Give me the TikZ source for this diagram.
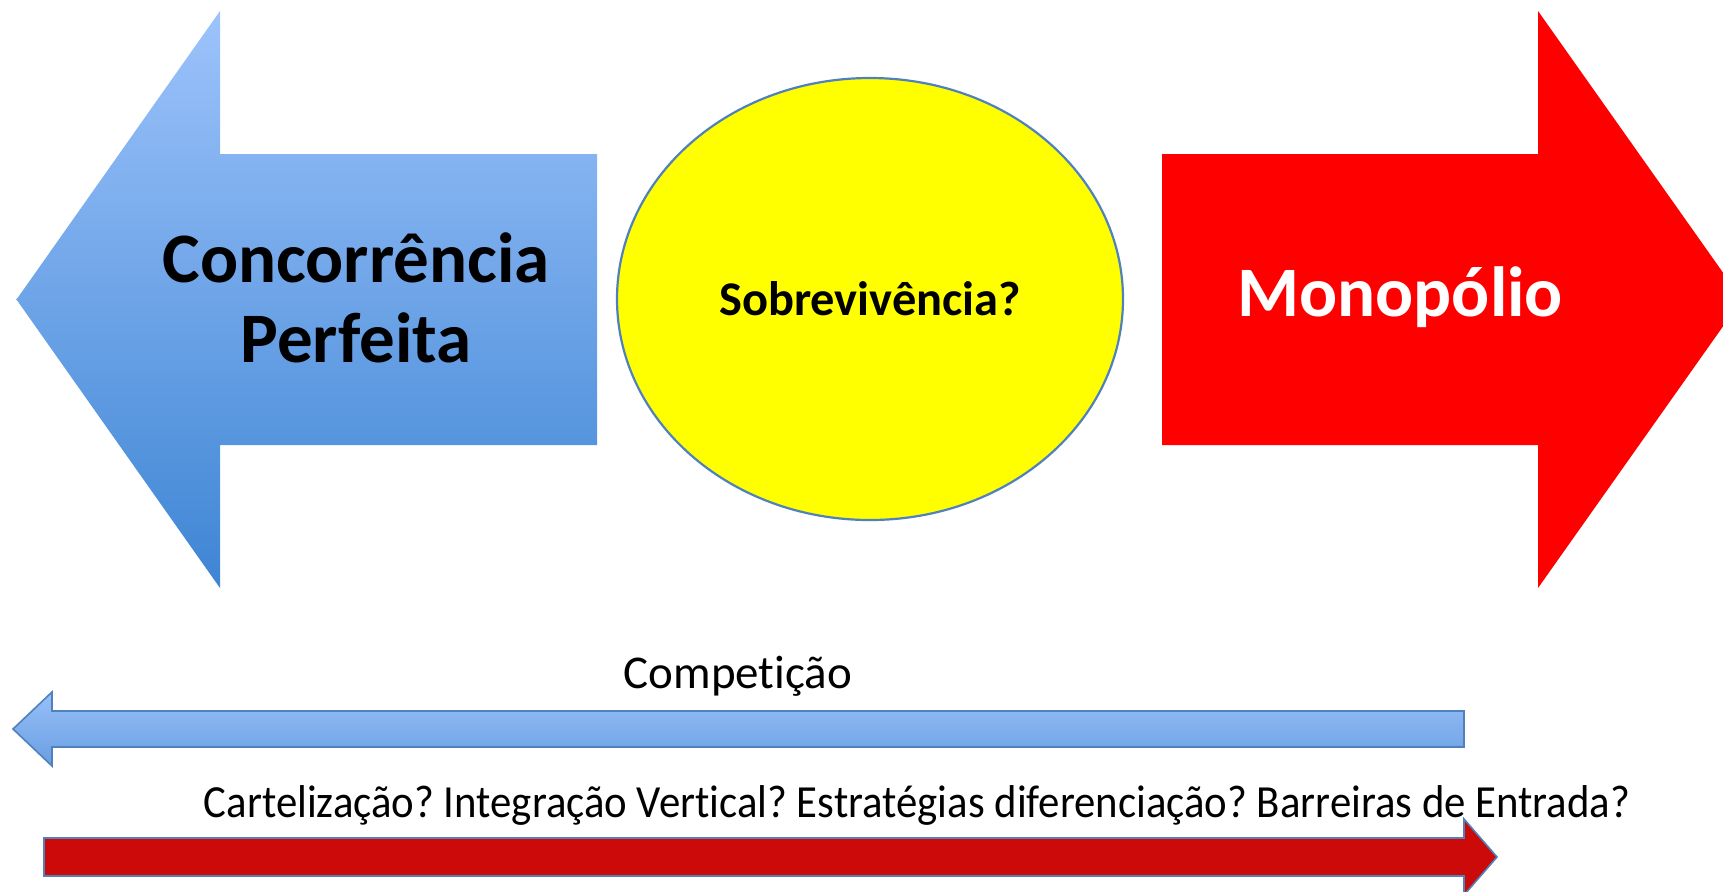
\documentclass[tikz,border=0pt]{standalone}
\usepackage{fontspec}
\usepackage{graphicx}
\setmainfont{Carlito}[Ligatures={NoCommon}]
\frenchspacing
\usetikzlibrary{positioning}
\usetikzlibrary{shapes.geometric}
\definecolor{blueTop}{RGB}{157,195,251}
\definecolor{blueBot}{RGB}{62,133,212}
\definecolor{barTop}{RGB}{152,192,250}
\definecolor{barBot}{RGB}{104,158,224}
\definecolor{edgeBlue}{RGB}{79,129,189}
\definecolor{darkRed}{RGB}{204,10,10}
\tikzset{
  bigtxt/.style={inner sep=0.75pt, font=\fontsize{35.5}{40}\selectfont\bfseries, align=center},
  smalltxt/.style={inner sep=0.75pt, font=\fontsize{23.5}{28}\selectfont}
}
\begin{document}
\begin{tikzpicture}[x=0.5pt,y=0.5pt,yscale=-1,xscale=1]
        \clip (0,0) rectangle (1723,891);

        %Shape: Left Arrow [id:left]
        \draw [draw=none, top color=blueTop, bottom color=blueBot] (16.5,299.5) -- (220,11) -- (220,154) -- (597,154) -- (597,445) -- (220,445) -- (220,588) -- cycle ;
        %Shape: Right Arrow [id:right]
        \draw [draw=none, fill={rgb, 255:red, 254; green, 0; blue, 0 }] (1162,154) -- (1538,154) -- (1538,11) -- (1742,299.5) -- (1538,588) -- (1538,445) -- (1162,445) -- cycle ;
        %Shape: Ellipse [id:circ]
        \node [ellipse, draw=edgeBlue, line width=1.1pt, fill={rgb, 255:red, 255; green, 255; blue, 0 }, minimum width=253pt, minimum height=221pt, inner sep=0pt, font=\fontsize{24.2}{28}\selectfont\bfseries] (surv) at (870,299) {Sobrevivência?};

        %Shape: Left Bar Arrow [id:comp]
        \draw [draw=edgeBlue, line width=0.8pt, top color=barTop, bottom color=barBot] (13,729) -- (52,692) -- (52,711) -- (1464,711) -- (1464,747) -- (52,747) -- (52,766) -- cycle ;
        %Shape: Right Bar Arrow [id:strat]
        \draw [draw=edgeBlue, line width=0.8pt, fill=darkRed] (44,838) -- (1464,838) -- (1464,819) -- (1497,857) -- (1464,895) -- (1464,876) -- (44,876) -- cycle ;

        % Text Node
        \node [bigtxt] (perf) at (356,298) {Concorrência\\Perfeita};
        % Text Node
        \node [bigtxt, text=white] (mono) at (1400,297) {Monopólio};
        % Text Node
        \node [smalltxt] (compt) at (738,676) {Competição};
        % Text Node
        \node [smalltxt, font=\fontsize{23}{28}\selectfont] (strtxt) at (917,805) {\scalebox{0.93}[1]{Cartelização? Integração Vertical? Estratégias diferenciação? Barreiras de Entrada?}};
\end{tikzpicture}
\end{document}
